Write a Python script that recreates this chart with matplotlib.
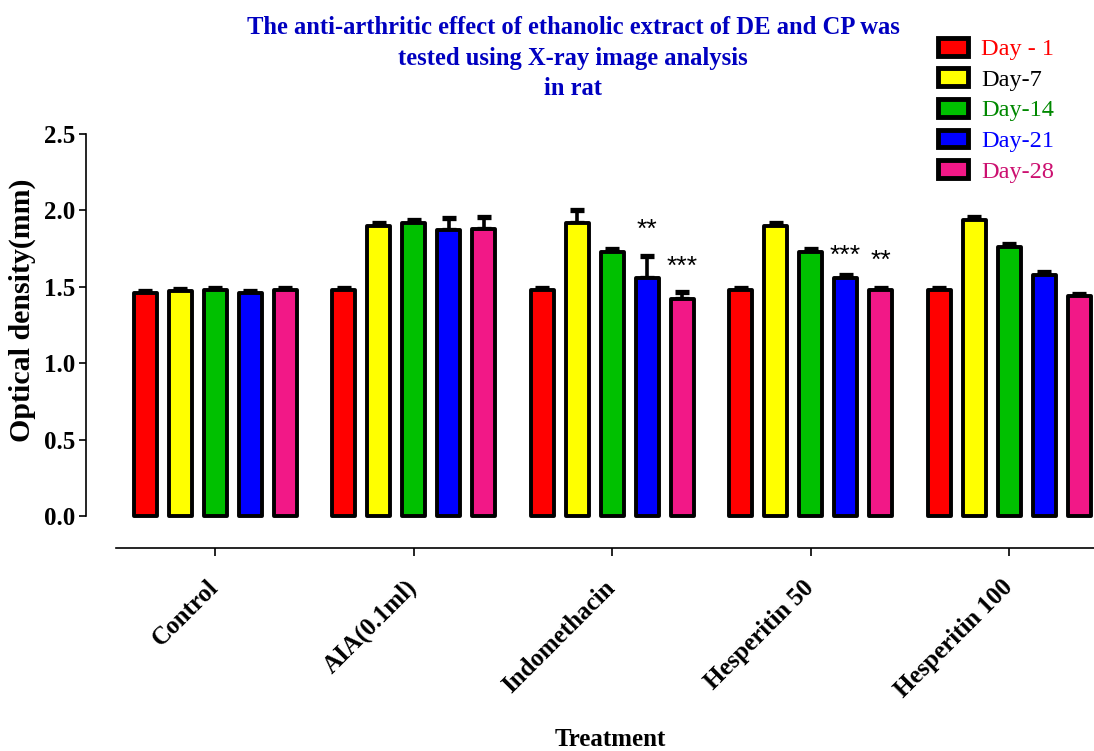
import matplotlib
matplotlib.use("Agg")
import matplotlib.pyplot as plt
import numpy as np
from matplotlib.patches import Patch

groups = ["Control", "AIA(0.1ml)", "Indomethacin", "Hesperitin 50", "Hesperitin 100"]
series = ["Day - 1", "Day-7", "Day-14", "Day-21", "Day-28"]
day1 = [1.46, 1.48, 1.48, 1.48, 1.48]
day7 = [1.47, 1.90, 1.92, 1.90, 1.94]
day14 = [1.48, 1.92, 1.73, 1.73, 1.76]
day21 = [1.46, 1.87, 1.56, 1.56, 1.58]
day28 = [1.48, 1.88, 1.42, 1.48, 1.44]
err1 = [0.015, 0.015, 0.015, 0.015, 0.015]
err7 = [0.015, 0.015, 0.08, 0.015, 0.015]
err14 = [0.015, 0.015, 0.015, 0.02, 0.02]
err21 = [0.015, 0.08, 0.14, 0.015, 0.015]
err28 = [0.015, 0.08, 0.045, 0.015, 0.015]
# significance marks: (group index, series index, text, y position)
sig_marks = [(2, 3, "**", 1.87), (2, 4, "***", 1.63), (3, 3, "***", 1.70), (3, 4, "**", 1.67)]

values = [day1, day7, day14, day21, day28]
errors = [err1, err7, err14, err21, err28]
colors = ["#FF0000", "#FFFF00", "#00C000", "#0000FF", "#F21887"]
label_colors = ["#FF0000", "#000000", "#008800", "#0000FF", "#CC1070"]

W, H = 1094, 751
fig = plt.figure(figsize=(W / 100, H / 100), dpi=100)
ax = fig.add_axes([86 / W, (H - 516) / H, 1 - 86 / W, (516 - 134) / H])

serif = "Liberation Serif"
gsp = 198.5
offs = 35 / gsp
bw = 23 / gsp
x = np.arange(len(groups))
for j in range(len(series)):
    xs = x + (j - 2) * offs
    bars = ax.bar(xs, values[j], width=bw, color=colors[j], edgecolor="black",
                  linewidth=2.8, zorder=3, clip_on=False)
    for b in bars:
        b.set_joinstyle("round")
    ax.errorbar(xs, values[j], yerr=[np.zeros(len(groups)), errors[j]], fmt="none",
                ecolor="black", elinewidth=2.6, capsize=4.8, capthick=3.8, zorder=2,
                clip_on=False)

for gi, si, txt, yv in sig_marks:
    ax.text(gi + (si - 2) * offs, yv, txt, ha="center", va="center",
            fontsize=19, family="Liberation Sans", color="black")

xl = (86 - 215) / gsp
xr = (W - 215) / gsp
ax.set_xlim(xl, xr)
ax.set_ylim(0, 2.5)
ax.spines["top"].set_visible(False)
ax.spines["right"].set_visible(False)
ax.spines["bottom"].set_position(("outward", 23))
ax.spines["bottom"].set_bounds((116 - 215) / gsp, xr)
ax.spines["bottom"].set_linewidth(1.2)
ax.spines["left"].set_linewidth(1.2)

ax.set_yticks([0.0, 0.5, 1.0, 1.5, 2.0, 2.5])
ax.set_yticklabels(["0.0", "0.5", "1.0", "1.5", "2.0", "2.5"], fontsize=18,
                   fontweight="bold", family=serif)
ax.tick_params(axis="y", length=5, width=1.2, pad=3)
ax.set_xticks(x)
ax.set_xticklabels(groups, rotation=45, ha="right", va="center", rotation_mode="anchor",
                   fontsize=18, fontweight="bold", family=serif)
ax.tick_params(axis="x", length=6, width=1.2, pad=20)

fig.text(22 / W, 1 - 310 / H, "Optical density(mm)", rotation=90, ha="center",
         va="center", fontsize=21.5, fontweight="bold", family=serif)
fig.text(610 / W, 1 - 740 / H, "Treatment", ha="center", va="center",
         fontsize=18, fontweight="bold", family=serif)

fig.text(573 / W, 1 - 58 / H,
         "The anti-arthritic effect of ethanolic extract of DE and CP was\n"
         "tested using X-ray image analysis\nin rat",
         ha="center", va="center", fontsize=17.7, fontweight="bold", family=serif,
         color="#0000C0", linespacing=1.42)

handles = [Patch(facecolor=c, edgecolor="black", linewidth=3.5, joinstyle="round")
           for c in colors]
leg = fig.legend(handles, series, loc="upper left", bbox_to_anchor=(928 / W, 1 - 28 / H),
                 frameon=False, prop={"family": serif, "size": 17.5},
                 labelcolor=label_colors, handlelength=1.25, handleheight=0.75,
                 labelspacing=0.34, handletextpad=0.55, borderaxespad=0)

fig.savefig("out.png", dpi=100)
